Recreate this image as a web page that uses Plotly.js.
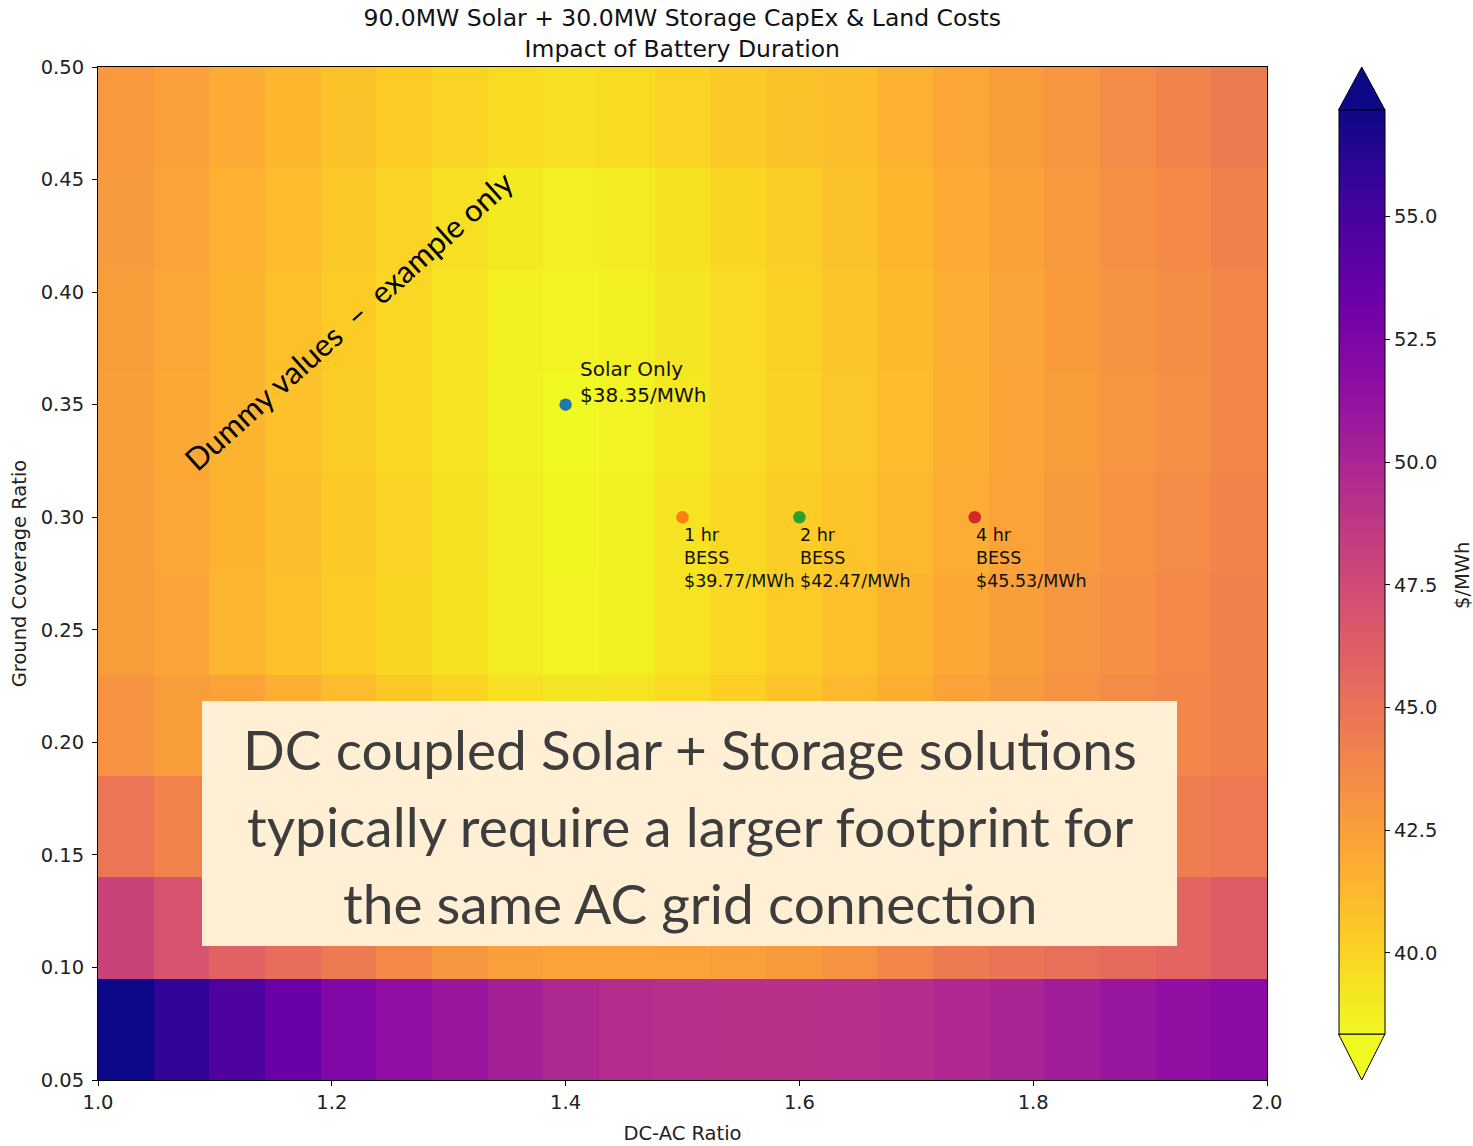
<!DOCTYPE html>
<html>
<head>
<meta charset="utf-8">
<script src="https://cdn.plot.ly/plotly-3.0.1.min.js"></script>
<style>
  html, body { margin: 0; padding: 0; background: #ffffff; }
  #chart { width: 1473px; height: 1146px; }
</style>
</head>
<body>
<div id="chart"></div>
<script>
// Axis extents covered by the cost grid
const dcAcExtent = [1.0, 2.0];
const gcrExtent = [0.05, 0.50];

// Cost per cell in $/MWh. Each row is one ground coverage ratio band
// (lowest GCR first); each entry is one DC-AC ratio band (1.0 -> 2.0).
const costGcr005 = [57.17, 55.8, 54.7, 53.4, 52.3, 51.45, 50.9, 50.3, 49.8, 49.45, 49.3, 49.2, 49.2, 49.25, 49.4, 49.7, 50.05, 50.5, 50.95, 51.4, 51.8];
const costGcr010 = [48.0, 46.9, 46.0, 45.3, 44.5, 43.8, 43.0, 42.5, 42.2, 42.2, 42.3, 42.5, 42.75, 43.2, 43.9, 44.5, 44.9, 45.2, 45.5, 45.8, 46.3];
const costGcr015 = [44.8, 44.1, 43.6, 42.9, 42.3, 41.7, 41.2, 40.8, 40.6, 40.7, 41.0, 41.4, 41.9, 42.4, 42.9, 43.3, 43.7, 44.0, 44.2, 44.4, 44.7];
const costGcr020 = [43.2, 42.6, 42.3, 41.7, 41.1, 40.5, 40.0, 39.5, 39.2, 39.3, 39.7, 40.2, 40.7, 41.2, 41.75, 42.3, 42.8, 43.2, 43.6, 43.9, 44.2];
const costGcr025 = [42.6, 42.2, 41.4, 40.9, 40.35, 39.9, 39.35, 38.9, 38.6, 38.75, 39.3, 39.85, 40.35, 40.85, 41.45, 42.0, 42.55, 43.0, 43.35, 43.75, 44.2];
const costGcr030 = [42.6, 42.1, 41.5, 41.0, 40.45, 39.95, 39.4, 38.85, 38.5, 38.75, 39.25, 39.8, 40.25, 40.7, 41.25, 41.8, 42.35, 42.8, 43.2, 43.6, 44.05];
const costGcr035 = [42.55, 42.0, 41.45, 40.85, 40.3, 39.8, 39.25, 38.65, 38.35, 38.6, 39.1, 39.65, 40.1, 40.55, 41.1, 41.65, 42.2, 42.6, 43.05, 43.4, 43.85];
const costGcr040 = [42.6, 42.1, 41.5, 40.9, 40.35, 39.85, 39.3, 38.75, 38.6, 38.75, 39.2, 39.7, 40.15, 40.6, 41.15, 41.7, 42.25, 42.7, 43.1, 43.45, 43.9];
const costGcr045 = [42.8, 42.3, 41.6, 41.1, 40.5, 40.0, 39.5, 39.0, 38.8, 38.95, 39.4, 39.9, 40.3, 40.8, 41.3, 41.9, 42.4, 42.9, 43.3, 43.7, 44.2];
const costGcr050 = [42.9, 42.5, 41.9, 41.3, 40.8, 40.35, 39.95, 39.6, 39.45, 39.6, 40.0, 40.4, 40.8, 41.0, 41.6, 42.1, 42.6, 43.0, 43.6, 44.0, 44.5];

// Highlighted design points
const pointLabels = ['Solar Only', '1 hr<br>BESS', '2 hr<br>BESS', '4 hr<br>BESS'];
const pointDcAc = [1.4, 1.5, 1.6, 1.75];
const pointGcr = [0.35, 0.30, 0.30, 0.30];
const pointCost = [38.35, 39.77, 42.47, 45.53];
const pointColors = ['#1f77b4', '#ff7f0e', '#2ca02c', '#d62728'];

// Colour bar tick values
const colorbarTicks = [40.0, 42.5, 45.0, 47.5, 50.0, 52.5, 55.0];

const costGrid = [costGcr005, costGcr010, costGcr015, costGcr020, costGcr025,
                  costGcr030, costGcr035, costGcr040, costGcr045, costGcr050];

// matplotlib "plasma" colour map (reversed on the trace so low cost = yellow)
const plasma = [
  [0.0, '#0d0887'], [0.1, '#41049d'], [0.2, '#6a00a8'], [0.3, '#8f0da4'],
  [0.4, '#b12a90'], [0.5, '#cc4778'], [0.6, '#e16462'], [0.7, '#f2844b'],
  [0.8, '#fca636'], [0.9, '#fcce25'], [1.0, '#f0f921']
];

const nCols = costGrid[0].length;
const nRows = costGrid.length;
const dx = (dcAcExtent[1] - dcAcExtent[0]) / nCols;
const dy = (gcrExtent[1] - gcrExtent[0]) / nRows;
const allCosts = costGrid.flat();
const zMin = Math.min(...allCosts);
const zMax = Math.max(...allCosts);

const axisFont = { family: 'DejaVu Sans, sans-serif', size: 19.5, color: '#222222' };
const noteFont = 'Lato, "Open Sans", sans-serif';

const heat = {
  type: 'heatmap',
  z: costGrid,
  x0: dcAcExtent[0] + dx / 2, dx: dx,
  y0: gcrExtent[0] + dy / 2, dy: dy,
  zmin: zMin, zmax: zMax,
  colorscale: plasma,
  reversescale: true,
  zsmooth: false,
  hoverinfo: 'skip',
  colorbar: {
    x: 1.0612, xanchor: 'left', xpad: 0,
    y: 0.5015, yanchor: 'middle', ypad: 0,
    len: 0.9121, lenmode: 'fraction',
    thickness: 46, thicknessmode: 'pixels',
    outlinewidth: 1, outlinecolor: '#000000',
    ticks: 'outside', ticklen: 5, tickwidth: 1, tickcolor: '#000000',
    tickvals: colorbarTicks,
    ticktext: colorbarTicks.map(v => v.toFixed(1)),
    tickfont: axisFont
  }
};

const points = {
  type: 'scatter',
  mode: 'markers',
  x: pointDcAc,
  y: pointGcr,
  marker: { size: 12.5, color: pointColors, line: { width: 0 } },
  hoverinfo: 'skip',
  showlegend: false
};

// Point labels: the solar-only label sits above-right, BESS labels below
const pointAnnotations = pointLabels.map((lab, i) => {
  const isSolar = i === 0;
  return {
    xref: 'x', yref: 'y',
    x: pointDcAc[i], y: pointGcr[i],
    text: lab + '<br>$' + pointCost[i].toFixed(2) + '/MWh',
    showarrow: false,
    align: 'left',
    xanchor: 'left',
    yanchor: isSolar ? 'bottom' : 'top',
    xshift: isSolar ? 12 : -1,
    yshift: isSolar ? -4 : -6,
    font: { family: 'DejaVu Sans, sans-serif', size: isSolar ? 20 : 17.5, color: '#111111' }
  };
});

const boxLines = [
  'DC coupled Solar + Storage solutions',
  'typically require a larger footprint for',
  'the same AC grid connection'
];
const boxLineY = [0.3268, 0.25025, 0.17426];
const boxAnnotations = boxLines.map((t, i) => ({
  xref: 'paper', yref: 'paper',
  x: 0.506, y: boxLineY[i],
  xanchor: 'center', yanchor: 'middle',
  text: t, showarrow: false,
  font: { family: noteFont, size: 55, color: '#3d3d3d' }
}));

const watermark = {
  xref: 'paper', yref: 'paper',
  x: 0.2147, y: 0.7502,
  xanchor: 'center', yanchor: 'middle',
  text: 'Dummy values  \u2013  example only',
  textangle: -42,
  showarrow: false,
  font: { family: noteFont, size: 31, color: '#000000' }
};

// Colour bar caption, rotated alongside the bar
const colorbarCaption = {
  xref: 'paper', yref: 'paper',
  x: 1.1668, y: 0.4985,
  xanchor: 'center', yanchor: 'middle',
  text: '$/MWh', textangle: -90, showarrow: false,
  font: axisFont
};

// Extension triangles at both ends of the colour bar
const cbLeft = 1.06116, cbRight = 1.10094, cbMid = (cbLeft + cbRight) / 2;
const cbTop = 0.95755, cbBottom = 0.04541;
const extendShapes = [
  {
    type: 'path', xref: 'paper', yref: 'paper',
    path: `M ${cbLeft},${cbTop} L ${cbMid},1.0 L ${cbRight},${cbTop} Z`,
    fillcolor: plasma[0][1], line: { color: '#000000', width: 1 }
  },
  {
    type: 'path', xref: 'paper', yref: 'paper',
    path: `M ${cbLeft},${cbBottom} L ${cbMid},0.0 L ${cbRight},${cbBottom} Z`,
    fillcolor: plasma[plasma.length - 1][1], line: { color: '#000000', width: 1 }
  }
];

const noteBox = {
  type: 'rect', xref: 'paper', yref: 'paper', layer: 'above',
  x0: 0.08896, x1: 0.92301, y0: 0.13228, y1: 0.37414,
  fillcolor: '#ffefd5', line: { width: 0 }
};

const layout = {
  width: 1473, height: 1146,
  margin: { l: 98, r: 206, t: 67, b: 66, pad: 0 },
  paper_bgcolor: '#ffffff',
  plot_bgcolor: '#ffffff',
  showlegend: false,
  title: {
    text: '90.0MW Solar + 30.0MW Storage CapEx & Land Costs<br>Impact of Battery Duration',
    font: { family: 'DejaVu Sans, sans-serif', size: 23.5, color: '#111111' },
    x: 0.4632, xref: 'container', xanchor: 'center',
    y: 0.977, yref: 'container', yanchor: 'top'
  },
  xaxis: {
    range: dcAcExtent,
    tick0: 1.0, dtick: 0.2, tickformat: '.1f',
    ticks: 'outside', ticklen: 5, tickwidth: 1, tickcolor: '#000000',
    showline: true, linecolor: '#000000', linewidth: 1, mirror: true,
    showgrid: false, zeroline: false,
    tickfont: axisFont,
    title: { text: 'DC-AC Ratio', font: axisFont, standoff: 12 }
  },
  yaxis: {
    range: gcrExtent,
    tick0: 0.05, dtick: 0.05, tickformat: '.2f',
    ticks: 'outside', ticklen: 5, tickwidth: 1, tickcolor: '#000000',
    ticklabelstandoff: 4,
    showline: true, linecolor: '#000000', linewidth: 1, mirror: true,
    showgrid: false, zeroline: false,
    tickfont: axisFont,
    title: { text: 'Ground Coverage Ratio', font: axisFont, standoff: 8 }
  },
  shapes: [noteBox].concat(extendShapes),
  annotations: pointAnnotations.concat([watermark, colorbarCaption]).concat(boxAnnotations)
};

Plotly.newPlot('chart', [heat, points], layout, { staticPlot: true, displayModeBar: false });
</script>
</body>
</html>
